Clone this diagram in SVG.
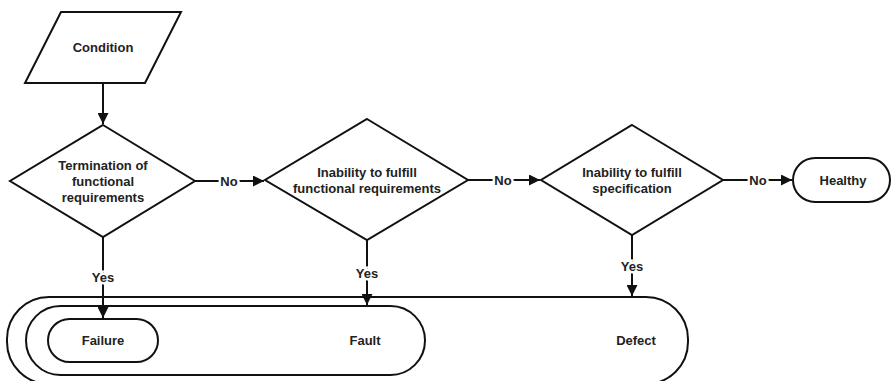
<svg xmlns="http://www.w3.org/2000/svg" width="893" height="381" viewBox="0 0 893 381">
<style>
.s{fill:#fff;stroke:#111;stroke-width:2}
.t{font-family:"Liberation Sans",Arial,sans-serif;font-weight:bold;font-size:13px;fill:#222;text-anchor:middle;dominant-baseline:central}
.c{stroke:#111;stroke-width:2;fill:none;marker-end:url(#a)}
.l{font-family:"Liberation Sans",Arial,sans-serif;font-weight:bold;font-size:13px;fill:#222;text-anchor:middle;dominant-baseline:central;paint-order:stroke;stroke:#fff;stroke-width:5px}
</style>
<defs>
<marker id="a" viewBox="0 0 10 10" refX="10" refY="5" markerWidth="5.5" markerHeight="5.5" orient="auto"><path d="M0,0L10,5L0,10z" fill="#111"/></marker>
</defs>
<rect width="893" height="381" fill="#fff"/>
<g id="defect"><rect class="s" x="7" y="297" width="681" height="87" rx="42"/><text class="t" x="636" y="340">Defect</text></g>
<g id="fault"><rect class="s" x="26" y="306" width="399" height="69" rx="34.5"/><text class="t" x="365" y="340">Fault</text></g>
<g id="failure"><rect class="s" x="48" y="319" width="110" height="43" rx="21.5"/><text class="t" x="103" y="340">Failure</text></g>
<g id="condition"><polygon class="s" points="61,12 181,12 145,83 25,83"/><text class="t" x="103" y="47">Condition</text></g>
<g id="d1"><polygon class="s" points="103,125 195,181 103,237 10,181"/><text class="t" x="103" y="165">Termination of</text><text class="t" x="103" y="181">functional</text><text class="t" x="103" y="197">requirements</text></g>
<g id="d2"><polygon class="s" points="367,119 468,180 367,240 265,180"/><text class="t" x="367" y="172">Inability to fulfill</text><text class="t" x="367" y="188">functional requirements</text></g>
<g id="d3"><polygon class="s" points="632,125 723,180 632,235 541,180"/><text class="t" x="632" y="172">Inability to fulfill</text><text class="t" x="632" y="188">specification</text></g>
<g id="healthy"><rect class="s" x="793" y="158" width="97" height="44" rx="22"/><text class="t" x="843" y="180">Healthy</text></g>
<g id="connectors">
<path class="c" d="M103,83V124"/>
<path class="c" d="M195,181H264"/><text class="l" x="229" y="181">No</text>
<path class="c" d="M468,180H540"/><text class="l" x="503" y="180">No</text>
<path class="c" d="M723,180H792"/><text class="l" x="758" y="180">No</text>
<path class="c" d="M103,237V318"/><text class="l" x="103" y="277">Yes</text>
<path class="c" d="M367,240V305"/><text class="l" x="367" y="273">Yes</text>
<path class="c" d="M632,235V296"/><text class="l" x="632" y="266">Yes</text>
</g>
</svg>
